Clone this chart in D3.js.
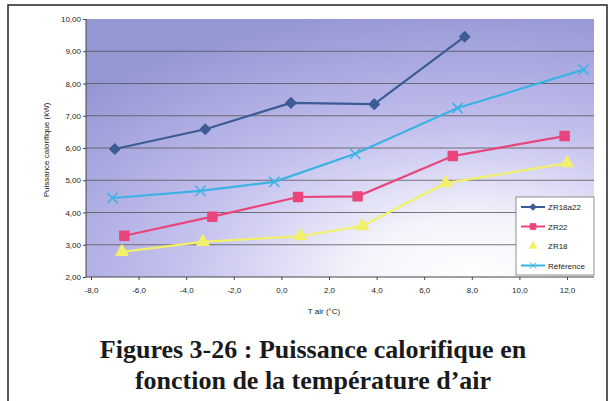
<!DOCTYPE html>
<html>
<head>
<meta charset="utf-8">
<script src="https://cdn.jsdelivr.net/npm/d3@7"></script>
<style>
  html, body { margin: 0; padding: 0; background: #fff; }
  svg { display: block; font-family: "Liberation Sans", Arial, sans-serif; }
</style>
</head>
<body>
<div id="chart"></div>
<script>
// values
const seriesNames = ["ZR18a22", "ZR22", "ZR18", "Référence"];
const tempZR18a22 = [-7.0, -3.2, 0.4, 3.9, 7.7];
const puisZR18a22 = [5.97, 6.58, 7.40, 7.36, 9.45];
const tempZR22 = [-6.6, -2.9, 0.7, 3.2, 7.2, 11.9];
const puisZR22 = [3.28, 3.87, 4.48, 4.50, 5.75, 6.37];
const tempZR18 = [-6.7, -3.3, 0.8, 3.4, 6.9, 12.0];
const puisZR18 = [2.78, 3.09, 3.27, 3.58, 4.91, 5.53];
const tempRef = [-7.1, -3.4, -0.3, 3.1, 7.4, 12.7];
const puisRef = [4.45, 4.67, 4.95, 5.82, 7.24, 8.43];
const xTicks = [-8, -6, -4, -2, 0, 2, 4, 6, 8, 10, 12];
const yTicks = [2, 3, 4, 5, 6, 7, 8, 9, 10];

(function() {
    const width = 614, height = 401;
    const plot = {left: 86, right: 594, top: 19, bottom: 277};
    const svg = d3.select("#chart").append("svg")
        .attr("width", width).attr("height", height);

    const x = d3.scaleLinear().domain([-8, 12]).range([91, 567]);
    const y = d3.scaleLinear().domain([2, 10]).range([plot.bottom, plot.top]);
    const fmt = (d, n) => d.toFixed(n).replace(".", ",");

    // page frame
    svg.append("path")
        .attr("d", `M8,401 V5 H607 V401`)
        .attr("fill", "none").attr("stroke", "#222").attr("stroke-width", 1.5);

    // plot background: lavender fading to white toward the bottom right
    const grad = svg.append("defs").append("radialGradient")
        .attr("id", "bg").attr("cx", 0.76).attr("cy", 1.0).attr("r", 1.05)
        .attr("fx", 0.76).attr("fy", 1.0);
    grad.append("stop").attr("offset", "0%").attr("stop-color", "#ffffff");
    grad.append("stop").attr("offset", "22%").attr("stop-color", "#f3f3fb");
    grad.append("stop").attr("offset", "55%").attr("stop-color", "#c4c1ee");
    grad.append("stop").attr("offset", "80%").attr("stop-color", "#aaa9e0");
    grad.append("stop").attr("offset", "100%").attr("stop-color", "#9597d3");
    svg.append("rect")
        .attr("x", plot.left).attr("y", plot.top)
        .attr("width", plot.right - plot.left).attr("height", plot.bottom - plot.top)
        .attr("fill", "url(#bg)");

    // gridlines
    svg.append("g").selectAll("line")
        .data(yTicks.filter(d => d > 2 && d < 10))
        .enter().append("line")
        .attr("x1", plot.left).attr("x2", plot.right)
        .attr("y1", d => y(d)).attr("y2", d => y(d))
        .attr("stroke", "#555").attr("stroke-width", 0.8);

    // axes
    const yAxis = svg.append("g")
        .attr("transform", `translate(${plot.left},0)`)
        .call(d3.axisLeft(y).tickValues(yTicks).tickSize(3).tickFormat(d => fmt(d, 2)));
    yAxis.select(".domain").remove();
    yAxis.selectAll("line").attr("stroke", "#444");
    yAxis.selectAll("text").attr("font-size", 8).attr("fill", "#222").attr("x", -5);
    svg.append("line").attr("x1", plot.left).attr("x2", plot.left)
        .attr("y1", plot.top).attr("y2", plot.bottom).attr("stroke", "#444");

    const xAxis = svg.append("g")
        .attr("transform", `translate(0,${plot.bottom})`)
        .call(d3.axisBottom(x).tickValues(xTicks).tickSize(3).tickFormat(d => fmt(d, 1)));
    xAxis.select(".domain").remove();
    xAxis.selectAll("line").attr("stroke", "#444");
    xAxis.selectAll("text").attr("font-size", 8).attr("fill", "#222").attr("dy", "1.2em");
    svg.append("line").attr("x1", plot.left).attr("x2", plot.right)
        .attr("y1", plot.bottom).attr("y2", plot.bottom).attr("stroke", "#444");

    // axis titles
    svg.append("text")
        .attr("x", 324).attr("y", 314)
        .attr("text-anchor", "middle").attr("font-size", 8).attr("fill", "#222")
        .text("T air (°C)");
    svg.append("text")
        .attr("transform", "rotate(-90)")
        .attr("x", -150).attr("y", 49)
        .attr("text-anchor", "middle").attr("font-size", 8).attr("fill", "#222")
        .text("Puissance calorifique (kW)");

    // series
    const series = [
        {name: seriesNames[0], xs: tempZR18a22, ys: puisZR18a22, color: "#3d5c96", marker: "diamond"},
        {name: seriesNames[1], xs: tempZR22, ys: puisZR22, color: "#e8457d", marker: "square"},
        {name: seriesNames[2], xs: tempZR18, ys: puisZR18, color: "#f2f06a", marker: "triangle"},
        {name: seriesNames[3], xs: tempRef, ys: puisRef, color: "#3cb2e4", marker: "cross"}
    ];
    // diamond = square turned 45 degrees (d3's own diamond is too tall)
    const typeOf = {
        diamond: d3.symbolSquare, square: d3.symbolSquare,
        triangle: d3.symbolTriangle, cross: d3.symbolX
    };
    const sizeOf = {diamond: 50, square: 80, triangle: 60, cross: 70};
    const rot = m => m === "diamond" ? " rotate(45)" : "";
    const line = d3.line().x(d => x(d[0])).y(d => y(d[1]));

    series.forEach(s => {
        const pts = s.xs.map((v, i) => [v, s.ys[i]]);
        svg.append("path").datum(pts)
            .attr("d", line).attr("fill", "none")
            .attr("stroke", s.color).attr("stroke-width", 2.2);
        svg.append("g").selectAll("path")
            .data(pts).enter().append("path")
            .attr("transform", d => `translate(${x(d[0])},${y(d[1])})` + rot(s.marker))
            .attr("d", d3.symbol().type(typeOf[s.marker]).size(sizeOf[s.marker]))
            .attr("fill", s.color)
            .attr("stroke", s.color)
            .attr("stroke-width", 1.5)
            .attr("stroke-linejoin", "round");
    });

    // legend
    const lg = svg.append("g");
    lg.append("rect")
        .attr("x", 516).attr("y", 197).attr("width", 78).attr("height", 78)
        .attr("fill", "#fff").attr("stroke", "#777").attr("stroke-width", 0.8);
    series.forEach((s, i) => {
        const ly = 207 + i * 19.5;
        if (s.marker !== "triangle") {
            lg.append("line").attr("x1", 521).attr("x2", 545)
                .attr("y1", ly).attr("y2", ly)
                .attr("stroke", s.color).attr("stroke-width", 2);
        }
        lg.append("path")
            .attr("transform", `translate(533,${ly})` + rot(s.marker))
            .attr("d", d3.symbol().type(typeOf[s.marker]).size(sizeOf[s.marker] * 0.4))
            .attr("fill", s.color).attr("stroke", s.color).attr("stroke-width", 1);
        lg.append("text")
            .attr("x", 548).attr("y", ly + 3)
            .attr("font-size", 8).attr("fill", "#222")
            .text(s.name);
    });

    // caption
    const cap = svg.append("text")
        .attr("text-anchor", "middle")
        .attr("font-family", "'Liberation Serif', 'Times New Roman', serif")
        .attr("font-weight", "bold").attr("font-size", 26).attr("fill", "#1a1a1a");
    cap.append("tspan").attr("x", 313).attr("y", 358).text("Figures 3-26 : Puissance calorifique en");
    cap.append("tspan").attr("x", 313).attr("y", 389).text("fonction de la température d’air");
})();
</script>
</body>
</html>
